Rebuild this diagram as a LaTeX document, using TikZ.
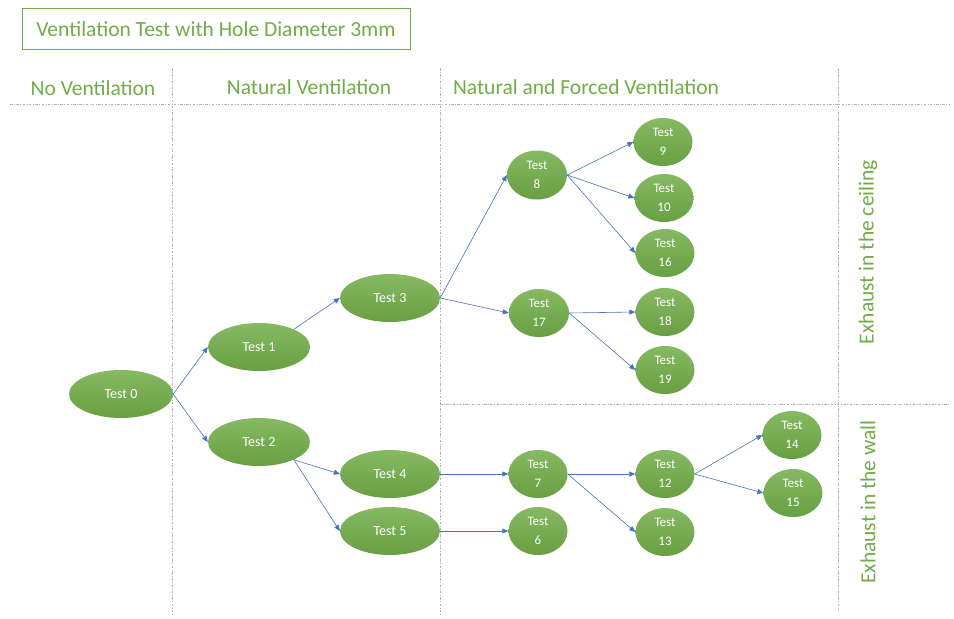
\documentclass[tikz,border=0pt]{standalone}
\usepackage{fontspec}
\setmainfont{Carlito}
\usetikzlibrary{shapes.geometric,arrows.meta}
\definecolor{tgreen}{HTML}{70AD47}
\definecolor{tblue}{HTML}{4472C4}
\begin{document}
\begin{tikzpicture}[x=1pt,y=-1pt,
  bigtest/.style={ellipse,minimum width=102pt,minimum height=48pt,inner sep=0pt,
    top color=tgreen!85!white,bottom color=tgreen!92!black,draw=none,text=white,
    font=\fontsize{14}{16}\selectfont},
  smalltest/.style={ellipse,minimum width=59pt,minimum height=48pt,inner sep=0pt,
    top color=tgreen!85!white,bottom color=tgreen!92!black,draw=none,text=white,
    align=center,font=\fontsize{13}{18.5}\selectfont},
  arr/.style={-{Triangle[length=6pt,width=5pt]},draw=tblue,line width=0.6pt},
  sep/.style={draw=black!30,line width=0.5pt,dash pattern=on 2.5pt off 1.5pt on 0.8pt off 1.5pt},
  head/.style={text=tgreen,font=\fontsize{21.5}{24}\selectfont,inner sep=0pt}]
\useasboundingbox (0,0) rectangle (954,619);
% title
\node[draw=tgreen,line width=0.7pt,minimum width=388pt,minimum height=41pt,text=tgreen,
  font=\fontsize{21.5}{24}\selectfont] (title) at (216,29) {Ventilation Test with Hole Diameter 3mm};
% separators
\coordinate (h1) at (10,104); \coordinate (h2) at (950,104);
\coordinate (v1a) at (172,68); \coordinate (v1b) at (172,615);
\coordinate (v2a) at (440,68); \coordinate (v2b) at (440,615);
\coordinate (v3a) at (838,68); \coordinate (v3b) at (838,610);
\coordinate (m1) at (440,404); \coordinate (m2) at (950,404);
\draw[sep] (h1) -- (h2);
\draw[sep] (v1a) -- (v1b);
\draw[sep] (v2a) -- (v2b);
\draw[sep] (v3a) -- (v3b);
\draw[sep] (m1) -- (m2);
% headers
\node[head] (hn) at (93,88) {No Ventilation};
\node[head] (hnat) at (309,87) {Natural Ventilation};
\node[head] (hnf) at (586,87) {Natural and Forced Ventilation};
\node[head,rotate=90] (hc) at (868,252) {Exhaust in the ceiling};
\node[head,rotate=90] (hw) at (868,502) {Exhaust in the wall};
% nodes
\node[bigtest,minimum width=104pt] (t0) at (121,394) {Test 0};
\node[bigtest] (t1) at (259,347) {Test 1};
\node[bigtest] (t2) at (259,442) {Test 2};
\node[bigtest,minimum width=100pt] (t3) at (390,298) {Test 3};
\node[bigtest,minimum width=100pt] (t4) at (390,474) {Test 4};
\node[bigtest,minimum width=100pt] (t5) at (390,531) {Test 5};
\node[smalltest,minimum width=60pt,minimum height=49pt] (t8) at (537,175) {Test\\8};
\node[smalltest,minimum width=60pt] (t17) at (539,313) {Test\\17};
\node[smalltest] (t9) at (663,142) {Test\\9};
\node[smalltest] (t10) at (664,198) {Test\\10};
\node[smalltest] (t16) at (665,253) {Test\\16};
\node[smalltest] (t18) at (665,312) {Test\\18};
\node[smalltest] (t19) at (665,370) {Test\\19};
\node[smalltest] (t7) at (538,474) {Test\\7};
\node[smalltest] (t6) at (538,531) {Test\\6};
\node[smalltest] (t12) at (665,474) {Test\\12};
\node[smalltest] (t13) at (665,532) {Test\\13};
\node[smalltest] (t14) at (792,435) {Test\\14};
\node[smalltest] (t15) at (793,493) {Test\\15};
% edges
\draw[arr] (t0.east) -- (t1.west);
\draw[arr] (t0.east) -- (t2.west);
\draw[arr] (t1.27) -- (t3.west);
\draw[arr] (t3.east) -- (t8.west);
\draw[arr] (t3.east) -- (t17.west);
\draw[arr] (t8.east) -- (t9.west);
\draw[arr] (t8.east) -- (t10.west);
\draw[arr] (t8.east) -- (t16.west);
\draw[arr] (t17.east) -- (t18.west);
\draw[arr] (t17.east) -- (t19.west);
\draw[arr] (t2.-27) -- (t4.west);
\draw[arr] (t2.-27) -- (t5.west);
\draw[arr] (t4.east) -- (t7.west);
\draw[arr] (t5.east) -- (t6.west);
\draw[arr] (t7.east) -- (t12.west);
\draw[arr] (t7.east) -- (t13.west);
\draw[arr] (t12.east) -- (t14.west);
\draw[arr] (t12.east) -- (t15.west);
\end{tikzpicture}
\end{document}
